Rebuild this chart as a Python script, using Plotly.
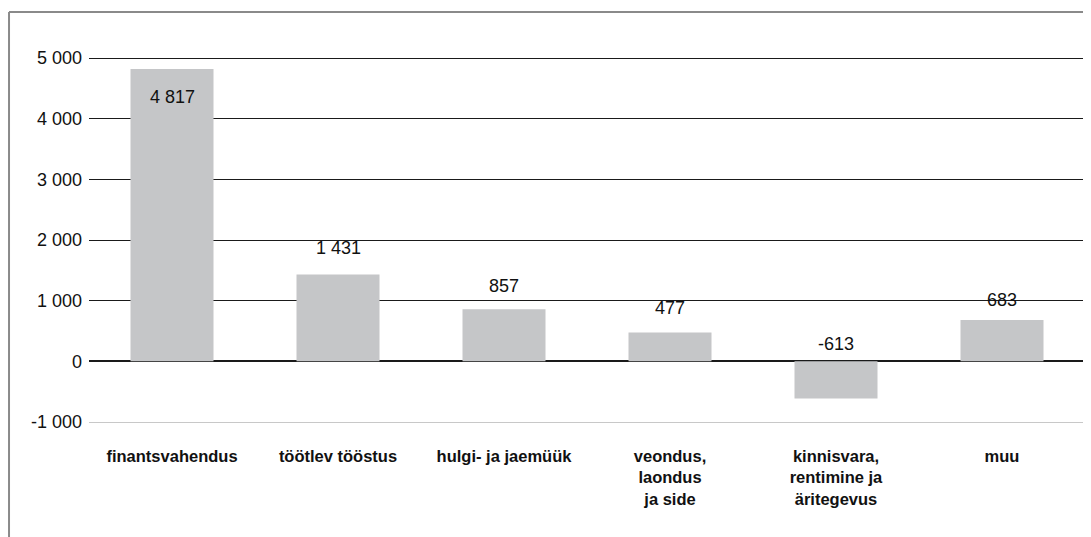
import plotly.graph_objects as go

categories = ["finantsvahendus", "töötlev tööstus", "hulgi- ja jaemüük",
              "veondus,<br>laondus<br>ja side", "kinnisvara,<br>rentimine ja<br>äritegevus", "muu"]
values = [4817, 1431, 857, 477, -613, 683]
tick_vals = [-1000, 0, 1000, 2000, 3000, 4000, 5000]
tick_text = ["-1 000", "0", "1 000", "2 000", "3 000", "4 000", "5 000"]

# label pixel offsets (style, not data)
label_shift = [-28, 27, 23, 24, 17, 20]

FONT = "Liberation Sans, Arial, Helvetica, sans-serif"

def fmt(v):
    return f"{v:,}".replace(",", " ")

fig = go.Figure()
fig.add_trace(go.Bar(
    x=categories, y=values, width=0.5,
    marker=dict(color="#c5c6c8", line=dict(width=0)),
    hoverinfo="skip",
))

for c, v, s in zip(categories, values, label_shift):
    fig.add_annotation(x=c, y=max(v, 0), text=fmt(v), showarrow=False,
                       yshift=s, yanchor="middle", xanchor="center",
                       font=dict(family=FONT, size=18, color="#111111"))

# outer frame (left and top)
fx = -0.0803
fy = 1.120
fig.add_shape(type="line", xref="paper", yref="paper", x0=fx, x1=1.02, y0=fy, y1=fy,
              line=dict(color="#8a8a8a", width=2))
fig.add_shape(type="line", xref="paper", yref="paper", x0=fx, x1=fx, y0=fy, y1=-0.35,
              line=dict(color="#8a8a8a", width=2))

fig.update_layout(
    width=1091, height=537,
    margin=dict(l=81, r=14, t=48, b=123),
    paper_bgcolor="white", plot_bgcolor="white",
    showlegend=False,
    font=dict(family=FONT, size=16, color="#111111"),
    bargap=0.5,
)
fig.update_xaxes(
    showgrid=False, showline=True, linecolor="#c8c8c8", linewidth=1,
    tickfont=dict(family=FONT, size=16.5, weight="bold", color="#111111"),
    ticklabelstandoff=19, ticks="",
)
fig.update_yaxes(
    range=[-1000, 5033], tickvals=tick_vals, ticktext=tick_text,
    showgrid=True, gridcolor="#1a1a1a", gridwidth=1,
    zeroline=True, zerolinecolor="#1a1a1a", zerolinewidth=2,
    ticks="", ticklabelstandoff=6,
    tickfont=dict(family=FONT, size=18, color="#111111"),
)

fig.write_html("out.html")
